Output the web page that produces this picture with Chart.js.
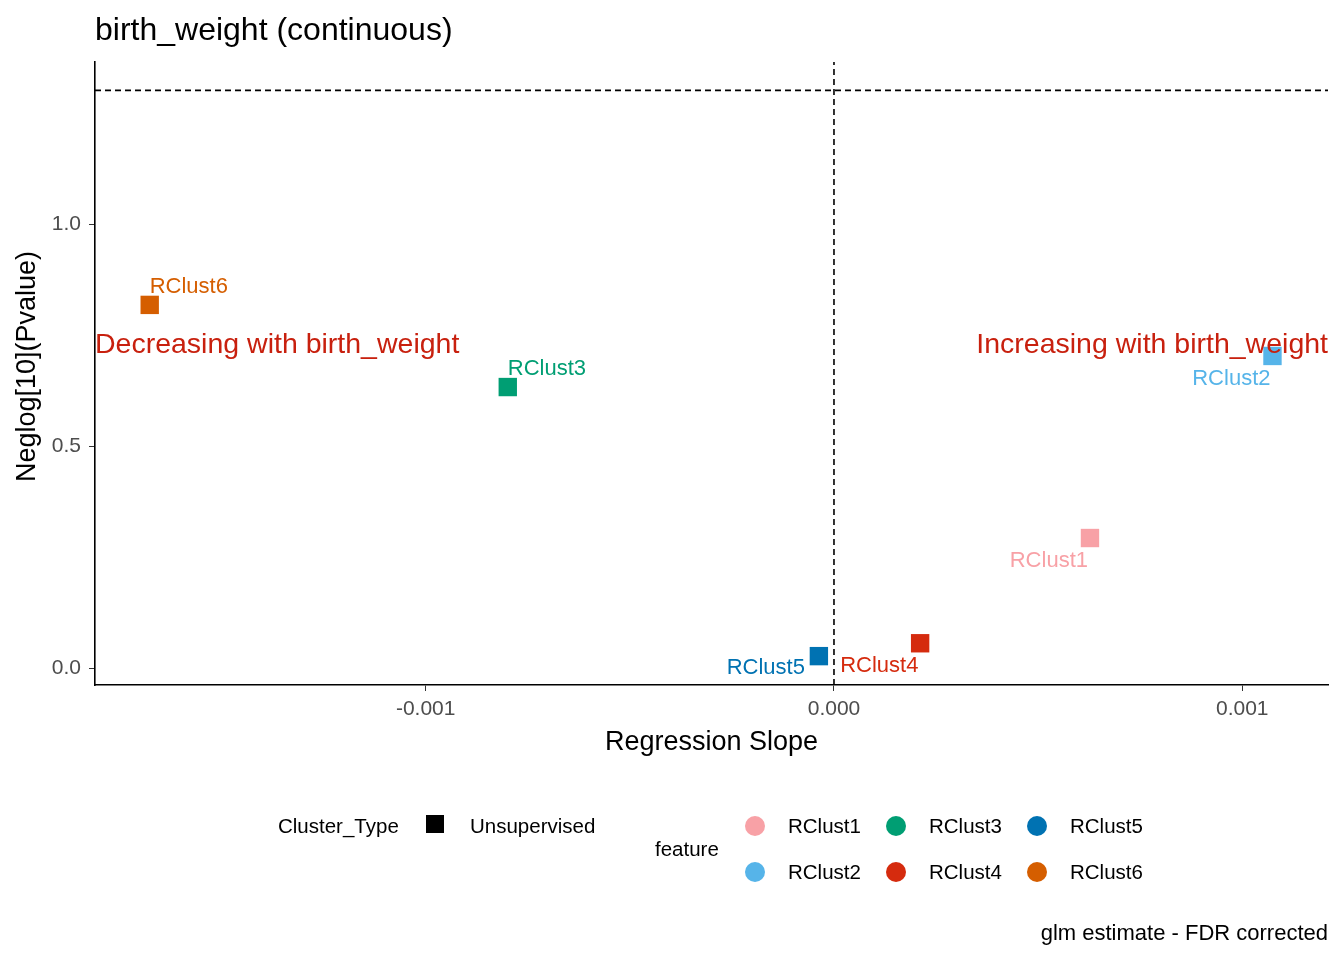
<!DOCTYPE html>
<html>
<head>
<meta charset="utf-8">
<script src="https://cdn.jsdelivr.net/npm/chart.js@4"></script>
<style>
  body { margin: 0; background: #fff; font-family: "Liberation Sans", Arial, sans-serif; }
  #wrap { position: relative; width: 1344px; height: 960px; }
  .t { position: absolute; white-space: nowrap; font-size: 20.5px; color: #000; transform: translateY(-50%); }
  .sq { position: absolute; width: 18px; height: 18px; background: #000; transform: translateY(-50%); }
  .dot { position: absolute; width: 20px; height: 20px; border-radius: 50%; transform: translate(-50%, -50%); }
</style>
</head>
<body>
<div id="wrap">
  <canvas id="chart" width="1344" height="960"></canvas>
  <div id="legend"></div>
</div>
<script>
const features = ['RClust1', 'RClust2', 'RClust3', 'RClust4', 'RClust5', 'RClust6'];
const slopes = [0.000627, 0.001074, -0.000799, 0.000211, -0.000037, -0.001676];
const neglogP = [0.293, 0.703, 0.633, 0.056, 0.027, 0.818];
const colors = ['#F8A1A6', '#56B4E9', '#009E73', '#D52B0E', '#0072B2', '#D55E00'];
const xTicks = [-0.001, 0, 0.001];
const yTicks = [0, 0.5, 1.0];
const threshold = 1.301;

// label placement: [align, dx, dy]
const labelPos = [
    ['right', -2, 23], ['right', -2, 23], ['left', 0, -18],
    ['left', -80, 23], ['right', -14, 12], ['left', 0, -18],
];

const labelsPlugin = {
    id: 'labels',
    afterDatasetsDraw(chart) {
        const ctx = chart.ctx;
        const meta = chart.getDatasetMeta(2);
        const area = chart.chartArea;
        ctx.save();
        ctx.textBaseline = 'middle';
        ctx.font = '22px "Liberation Sans", Arial';
        meta.data.forEach((pt, i) => {
            const [align, dx, dy] = labelPos[i];
            ctx.fillStyle = colors[i];
            ctx.textAlign = align;
            ctx.fillText(features[i], pt.x + dx, pt.y + dy);
        });
        ctx.font = '28.5px "Liberation Sans", Arial';
        ctx.fillStyle = '#C8200E';
        ctx.textAlign = 'left';
        ctx.fillText('Decreasing with birth_weight', area.left, 345);
        ctx.textAlign = 'right';
        ctx.fillText('Increasing with birth_weight', area.right, 345);
        ctx.fillStyle = '#000';
        ctx.textAlign = 'left';
        ctx.font = '32px "Liberation Sans", Arial';
        ctx.fillText('birth_weight (continuous)', 95, 31);
        ctx.textAlign = 'center';
        ctx.font = '27px "Liberation Sans", Arial';
        ctx.fillText('Regression Slope', (area.left + area.right) / 2, 743);
        ctx.translate(28, (area.top + area.bottom) / 2 - 7);
        ctx.rotate(-Math.PI / 2);
        ctx.fillText('Neglog[10](Pvalue)', 0, 0);
        ctx.restore();
    }
};

const chart = new Chart(document.getElementById('chart'), {
    type: 'scatter',
    data: {
        datasets: [
            {
                type: 'line',
                data: [{ x: -0.00181, y: threshold }, { x: 0.00121, y: threshold }],
                borderColor: '#000', borderWidth: 1.6, borderDash: [6, 4], pointRadius: 0,
            },
            {
                type: 'line',
                data: [{ x: 0, y: -0.038 }, { x: 0, y: 1.365 }],
                borderColor: '#000', borderWidth: 1.6, borderDash: [6, 4], pointRadius: 0,
            },
            {
                data: slopes.map((x, i) => ({ x, y: neglogP[i] })),
                pointStyle: 'rect',
                pointRadius: 13,
                pointHoverRadius: 13,
                backgroundColor: colors,
                borderColor: colors,
                borderWidth: 0,
            },
        ],
    },
    plugins: [labelsPlugin],
    options: {
        responsive: false,
        animation: false,
        layout: { padding: { top: 62, right: 16, left: 0, bottom: 0 } },
        plugins: { legend: { display: false }, tooltip: { enabled: false } },
        scales: {
            x: {
                type: 'linear', min: -0.00181, max: 0.00121,
                afterBuildTicks: (s) => { s.ticks = xTicks.map(v => ({ value: v })); },
                afterFit: (s) => { s.height = 275; },
                border: { color: '#000', width: 1.6 },
                grid: { drawOnChartArea: false, tickLength: 6, color: '#333' },
                ticks: { color: '#4d4d4d', padding: 6, font: { size: 21, family: '"Liberation Sans", Arial' },
                    callback: (v) => v.toFixed(3) },
            },
            y: {
                type: 'linear', min: -0.038, max: 1.365,
                afterBuildTicks: (s) => { s.ticks = yTicks.map(v => ({ value: v })); },
                afterFit: (s) => { s.width = 95; },
                border: { color: '#000', width: 1.6 },
                grid: { drawOnChartArea: false, tickLength: 6, color: '#333' },
                ticks: { color: '#4d4d4d', padding: 8, font: { size: 21, family: '"Liberation Sans", Arial' },
                    callback: (v) => v.toFixed(1) },
            },
        },
    },
});

// legend and caption
const legend = document.getElementById('legend');
let html = '<div class="t" style="left:278px;top:826px">Cluster_Type</div>' +
    '<div class="sq" style="left:426px;top:824px"></div>' +
    '<div class="t" style="left:470px;top:826px">Unsupervised</div>' +
    '<div class="t" style="left:655px;top:849px">feature</div>';
features.forEach((f, i) => {
    const col = Math.floor(i / 2), row = i % 2;
    const cx = 755 + col * 141, cy = 826 + row * 46;
    html += `<div class="dot" style="left:${cx}px;top:${cy}px;background:${colors[i]}"></div>`;
    html += `<div class="t" style="left:${cx + 33}px;top:${cy}px">${f}</div>`;
});
html += '<div class="t" style="right:16px;top:933px;font-size:22px">glm estimate - FDR corrected</div>';
legend.innerHTML = html;
</script>
</body>
</html>
